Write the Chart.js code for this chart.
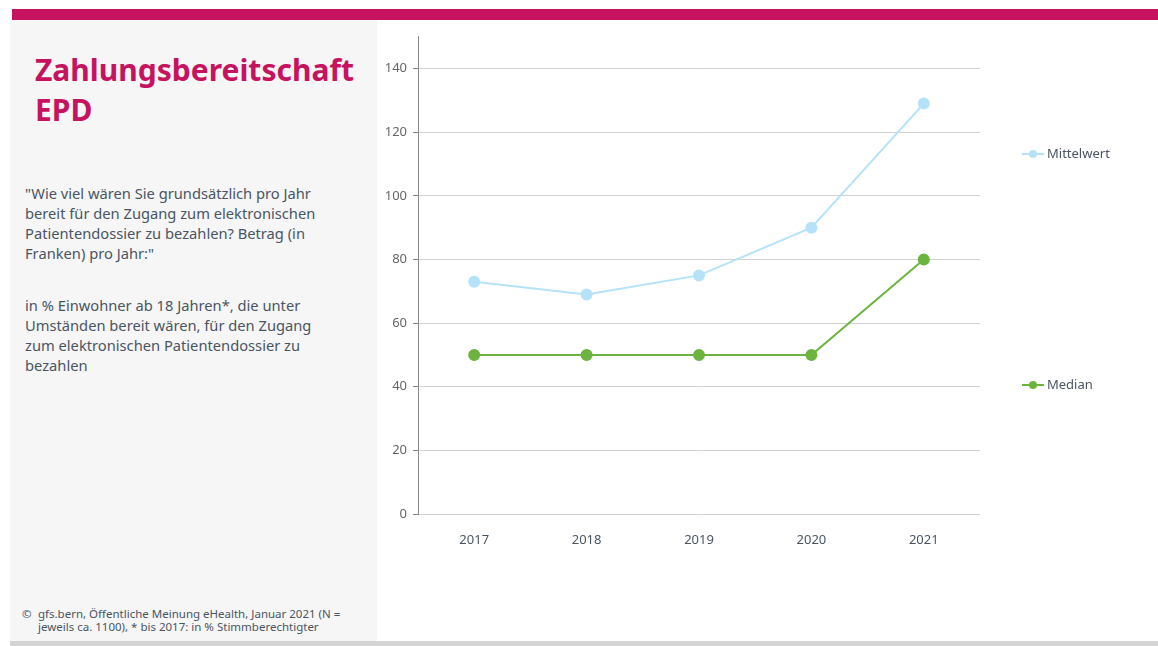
<!DOCTYPE html>
<html>
<head>
<meta charset="utf-8">
<script src="https://cdn.jsdelivr.net/npm/chart.js@4"></script>
<style>
  html, body { margin: 0; padding: 0; background: #fff; }
  body { width: 1158px; height: 646px; position: relative; overflow: hidden; font-family: "Noto Sans", sans-serif; color: #4a5563; }
  .topbar { position: absolute; left: 12px; top: 9px; width: 1146px; height: 11px; background: #c6135f; }
  .panel { position: absolute; left: 10px; top: 20px; width: 367px; height: 621px; background: #f6f6f6; }
  .bottombar { position: absolute; left: 10px; top: 641px; width: 1148px; height: 5px; background: #d4d4d4; }
  .title { position: absolute; left: 35px; top: 50px; font-size: 30px; font-weight: bold; line-height: 40px; color: #c6135f; }
  .txt { position: absolute; left: 25px; font-size: 14.7px; line-height: 20px; }
  .foot { position: absolute; left: 22px; top: 607px; font-size: 11.5px; line-height: 13px; }
  .foot span { position: absolute; left: 16px; white-space: nowrap; }
  #wrap { position: absolute; left: 380px; top: 23px; width: 778px; height: 537px; }
</style>
</head>
<body>
<div class="topbar"></div>
<div class="panel"></div>
<div class="bottombar"></div>
<div class="title">Zahlungsbereitschaft<br>EPD</div>
<div class="txt" style="top:183px">"Wie viel wären Sie grundsätzlich pro Jahr<br>bereit für den Zugang zum elektronischen<br>Patientendossier zu bezahlen? Betrag (in<br>Franken) pro Jahr:"</div>
<div class="txt" style="top:295px">in % Einwohner ab 18 Jahren*, die unter<br>Umständen bereit wären, für den Zugang<br>zum elektronischen Patientendossier zu<br>bezahlen</div>
<div class="foot">©<span>gfs.bern, Öffentliche Meinung eHealth, Januar 2021 (N =<br>jeweils ca. 1100), * bis 2017: in % Stimmberechtigter</span></div>
<div id="wrap"><canvas id="chart"></canvas></div>
<script>
var years = ['2017', '2018', '2019', '2020', '2021'];
var mittelwert = [73, 69, 75, 90, 129];
var median = [50, 50, 50, 50, 80];
var seriesNames = ['Mittelwert', 'Median'];
var legendY = [131, 362]; // legend row positions inside canvas

var cBlue = '#b5e2f8';
var cGreen = '#6db33f';
var cText = '#4a5563';

// legend drawn at the right side, next to the plot
var sideLegend = {
  id: 'sideLegend',
  afterDraw: function (chart) {
    var ctx = chart.ctx;
    var x = chart.chartArea.right + 42;
    chart.data.datasets.forEach(function (ds, i) {
      var y = legendY[i];
      ctx.save();
      ctx.strokeStyle = ds.borderColor;
      ctx.lineWidth = 2;
      ctx.beginPath();
      ctx.moveTo(x, y);
      ctx.lineTo(x + 22, y);
      ctx.stroke();
      ctx.fillStyle = ds.borderColor;
      ctx.beginPath();
      ctx.arc(x + 11, y, 4, 0, Math.PI * 2);
      ctx.fill();
      ctx.fillStyle = cText;
      ctx.font = '13px "Noto Sans"';
      ctx.textBaseline = 'middle';
      ctx.fillText(ds.label, x + 25, y);
      ctx.restore();
    });
  }
};

new Chart(document.getElementById('chart'), {
  type: 'line',
  data: {
    labels: years,
    datasets: [{
      label: seriesNames[0],
      data: mittelwert,
      borderColor: cBlue,
      backgroundColor: cBlue,
      borderWidth: 2,
      pointRadius: 5,
      pointHoverRadius: 5,
      tension: 0
    }, {
      label: seriesNames[1],
      data: median,
      borderColor: cGreen,
      backgroundColor: cGreen,
      borderWidth: 2,
      pointRadius: 5,
      pointHoverRadius: 5,
      tension: 0
    }]
  },
  options: {
    responsive: true,
    maintainAspectRatio: false,
    animation: false,
    layout: { padding: { top: 3, right: 178, left: 0, bottom: 0 } },
    plugins: {
      legend: { display: false },
      tooltip: { enabled: false }
    },
    scales: {
      x: {
        offset: true,
        grid: { display: false },
        border: { display: false },
        ticks: { color: cText, font: { family: 'Noto Sans', size: 13 }, padding: 10 },
        afterFit: function (scale) { scale.height = 46; }
      },
      y: {
        min: 0,
        max: 150,
        afterBuildTicks: function (scale) {
          scale.ticks = scale.ticks.filter(function (t) { return t.value <= 140; });
        },
        ticks: { stepSize: 20, color: '#666', font: { family: 'Noto Sans', size: 13 }, padding: 6 },
        grid: { color: '#d2d2d2', tickColor: '#888', tickLength: 5 },
        border: { color: '#888', width: 1 },
        afterFit: function (scale) { scale.width = 38; }
      }
    }
  },
  plugins: [sideLegend]
});
</script>
</body>
</html>
